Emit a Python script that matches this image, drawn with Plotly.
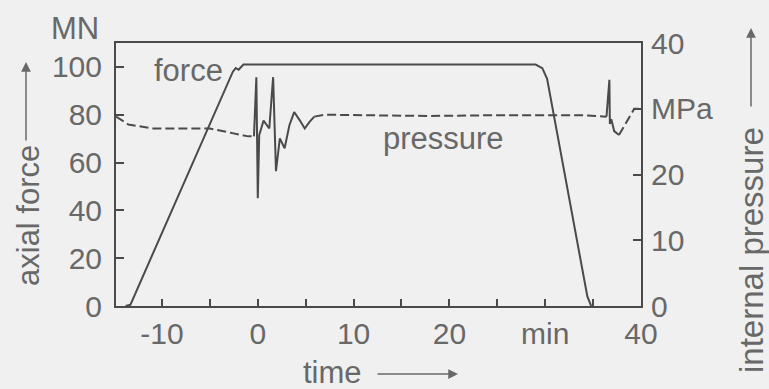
import plotly.graph_objects as go

# ---- data ----
force_time = [-13.8, -13.3, -2.6, -2.3, -2.0, -1.5, 29.0, 29.7, 30.2, 34.4, 34.8]
force_mn = [0, 0.5, 98, 99.5, 98.8, 101, 101, 99.5, 95, 4, 0]

p_pre_time = [-14.8, -13.5, -11.0, -8.0, -5.0, -3.0, -1.0, -0.4]
p_pre_mpa = [28.8, 27.6, 27.0, 27.0, 27.0, 26.4, 25.8, 25.8]

p_tr1_time = [-0.4, -0.15, 0.0, 0.15, 0.6, 1.2, 1.6, 1.9, 2.3, 2.8, 3.3, 3.8, 4.4, 4.9, 5.4, 5.9]
p_tr1_mpa = [25.8, 34.8, 16.4, 26.0, 28.2, 27.0, 34.8, 20.5, 25.5, 24.0, 27.5, 29.5, 28.2, 27.0, 28.0, 28.8]

p_mid_time = [5.9, 7.0, 12.0, 18.0, 24.0, 30.0, 34.0, 36.4]
p_mid_mpa = [28.8, 29.1, 29.0, 28.9, 29.0, 29.0, 29.0, 28.8]

p_tr2_time = [36.4, 36.7, 36.75, 36.9, 37.2, 37.7]
p_tr2_mpa = [28.8, 34.4, 27.7, 28.4, 26.6, 26.0]

p_end_time = [37.7, 38.5, 39.3, 40.0]
p_end_mpa = [26.0, 28.0, 30.0, 30.0]

x_ticks = [-10, -5, 0, 5, 10, 15, 20, 25, 30, 35, 40]
x_ticktext = ["-10", "", "0", "", "10", "", "20", "", "min", "", "40"]
y_ticks = [0, 20, 40, 60, 80, 100]
y_ticktext = ["0", "20", "40", "60", "80", "100"]
y2_ticks = [0, 10, 20, 30, 40]
y2_ticktext = ["0", "10", "20", "MPa", "40"]

# ---- style ----
LINE = "#4a4a4a"
TXT = "#686868"
BG = "#f0f0f0"
FONT = "Liberation Sans, Arial, sans-serif"
DASH = "9px,4px"

fig = go.Figure()
fig.add_trace(go.Scatter(x=force_time, y=force_mn, mode="lines",
                         line=dict(color=LINE, width=2), yaxis="y", showlegend=False))
for tx, ty, dash in [(p_pre_time, p_pre_mpa, DASH),
                     (p_tr1_time, p_tr1_mpa, "solid"),
                     (p_mid_time, p_mid_mpa, DASH),
                     (p_tr2_time, p_tr2_mpa, "solid"),
                     (p_end_time, p_end_mpa, DASH)]:
    fig.add_trace(go.Scatter(x=tx, y=ty, mode="lines",
                             line=dict(color=LINE, width=2, dash=dash),
                             yaxis="y2", showlegend=False))

W, H = 769, 389
L, R, T, B = 116, 128, 43, 83
pw, ph = W - L - R, H - T - B

def px(xp):
    return (xp - L) / pw

def py(yp):
    return (H - B - yp) / ph

axis_common = dict(showgrid=False, zeroline=False, showline=True, linecolor=LINE,
                   linewidth=2, ticks="inside", tickcolor=LINE, tickwidth=1.5,
                   tickfont=dict(family=FONT, size=30, color=TXT))

fig.update_layout(
    width=W, height=H,
    margin=dict(l=L, r=R, t=T, b=B),
    paper_bgcolor=BG, plot_bgcolor=BG,
    xaxis=dict(range=[-14.8, 40], tickvals=x_ticks, ticktext=x_ticktext,
               ticklen=7, mirror=True, ticklabelstandoff=0, **axis_common),
    yaxis=dict(range=[0, 110], tickvals=y_ticks, ticktext=y_ticktext,
               ticklen=8, ticklabelstandoff=6, **axis_common),
    yaxis2=dict(range=[0, 40], tickvals=y2_ticks, ticktext=y2_ticktext,
                overlaying="y", side="right", ticklen=8, ticklabelstandoff=2,
                **axis_common),
)

def label(text, x, y, angle=0, size=31):
    return dict(text=text, x=px(x), y=py(y), xref="paper", yref="paper",
                xanchor="center", yanchor="middle", showarrow=False,
                textangle=angle, font=dict(family=FONT, size=size, color=TXT))

def arrow(xh, yh, ax, ay):
    return dict(text="", x=px(xh), y=py(yh), xref="paper", yref="paper", ax=ax, ay=ay,
                showarrow=True, arrowhead=2, arrowsize=1.3, arrowwidth=1.5, arrowcolor=TXT)

annotations = [
    label("MN", 75, 28),
    label("force", 188, 70),
    label("pressure", 443, 138),
    label("time", 332, 372),
    label("axial force", 28, 216, -90),
    label("internal pressure", 751, 250, -90, size=33),
    arrow(458, 374, -82, 0),
    arrow(26, 62, 0, 80),
    arrow(751, 28, 0, 80),
]
fig.update_layout(annotations=annotations)

fig.write_html("out.html")
